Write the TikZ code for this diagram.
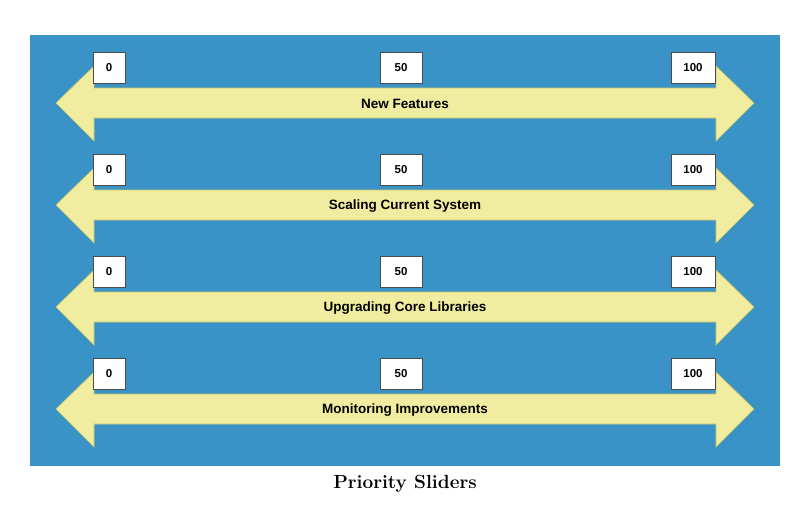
\documentclass[tikz,border=0pt]{standalone}
\usepackage{fontspec}
\setsansfont{Liberation Sans}
\definecolor{bg}{HTML}{3A93C6}
\definecolor{ar}{HTML}{F0EDA0}
\definecolor{arb}{HTML}{C9C46A}
\begin{document}
\begin{tikzpicture}[x=1pt,y=-1pt,
  valbox/.style={draw=black!70,fill=white,line width=0.8pt,minimum width=32pt,minimum height=31pt,inner sep=0pt,font=\sffamily\bfseries\fontsize{11.5}{13}\selectfont},
  arrowlbl/.style={font=\sffamily\bfseries\fontsize{13.5}{16}\selectfont,inner sep=1pt},
  slider/.style={fill=ar,draw=arb,line width=0.6pt}]
\useasboundingbox (0,0) rectangle (810,522);
\fill[bg] (30,35) rectangle (780,466);
\foreach \c/\t [count=\i] in {103/New Features,205/Scaling Current System,307/Upgrading Core Libraries,409/Monitoring Improvements}{
  \draw[slider] (56,\c) -- (94,\c-37) -- (94,\c-15) -- (716,\c-15) -- (716,\c-37) -- (754,\c) -- (716,\c+38) -- (716,\c+15) -- (94,\c+15) -- (94,\c+38) -- cycle;
  \node[arrowlbl] (l\i) at (405,\c+1) {\t};
  \node[valbox,minimum width=32pt] (a\i) at (109,\c-35) {0};
  \node[valbox,minimum width=42pt] (b\i) at (401,\c-35) {50};
  \node[valbox,minimum width=44pt] (c\i) at (693,\c-35) {100};
}
\node[font=\bfseries\fontsize{19}{22}\selectfont] (title) at (405,484) {Priority Sliders};
\end{tikzpicture}
\end{document}
